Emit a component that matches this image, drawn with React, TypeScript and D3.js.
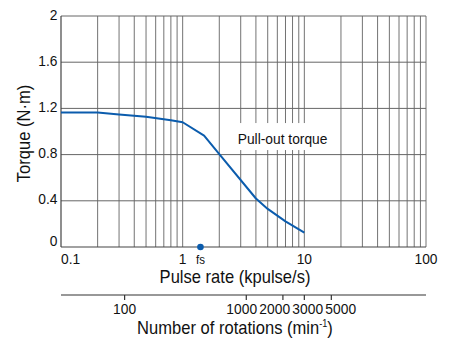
import { useEffect, useRef } from "react"
import * as d3 from "d3"

// pull-out torque curve (kpulse/s -> N·m)
const pulseRates = [0.1, 0.2, 0.3, 0.5, 0.8, 1, 1.5, 2, 4, 5, 7, 10]
const torqueValues = [1.165, 1.165, 1.148, 1.127, 1.098, 1.08, 0.965, 0.805, 0.42, 0.33, 0.222, 0.125]

const yTicks = [0, 0.4, 0.8, 1.2, 1.6, 2]
const xLabelTicks = [0.1, 1, 10, 100]
const rpmTicks = [100, 1000, 2000, 3000, 5000]
const fsRate = 1.4
const stepsPerRev = 200
const curveLabel = "Pull-out torque"

const FONT = "'Liberation Sans', Arial, sans-serif"
const SQUEEZE = 0.92 // the original uses a slightly condensed face

export default function App() {
  const svgRef = useRef<SVGSVGElement>(null)

  useEffect(() => {
    if (!svgRef.current) return
    const width = 452
    const height = 338
    const plot = { left: 61, right: 426, top: 16, bottom: 247 }
    const blue = "#0b5cad"

    d3.select(svgRef.current).selectAll("*").remove()
    const svg = d3.select(svgRef.current).attr("width", width).attr("height", height)

    // condensed text helper
    const txt = (px: number, py: number, s: string, size: number, anchor = "middle", rot = 0) =>
      svg
        .append("g")
        .attr("transform", `translate(${px},${py}) rotate(${rot}) scale(${SQUEEZE},1)`)
        .append("text")
        .attr("text-anchor", anchor)
        .attr("font-family", FONT)
        .attr("font-size", size)
        .attr("fill", "#111")
        .text(s)

    const x = d3.scaleLog().domain([0.1, 100]).range([plot.left, plot.right])
    const y = d3.scaleLinear().domain([0, 2]).range([plot.bottom, plot.top])

    // vertical grid: every 1..9 of each decade
    const gridX: number[] = []
    for (let e = -1; e < 2; e++) for (let m = 2; m <= 10; m++) gridX.push(m * Math.pow(10, e))

    svg
      .append("g")
      .selectAll("line")
      .data(gridX)
      .join("line")
      .attr("x1", (d) => x(d))
      .attr("x2", (d) => x(d))
      .attr("y1", y(0))
      .attr("y2", y(2))
      .attr("stroke", "#737373")
      .attr("stroke-width", 1)

    svg
      .append("g")
      .selectAll("line")
      .data(yTicks.filter((d) => d > 0))
      .join("line")
      .attr("x1", x(0.1))
      .attr("x2", x(100))
      .attr("y1", (d) => y(d))
      .attr("y2", (d) => y(d))
      .attr("stroke", "#666")
      .attr("stroke-width", 1)

    // axes frame
    svg.append("line").attr("x1", x(0.1)).attr("x2", x(0.1)).attr("y1", y(0)).attr("y2", y(2)).attr("stroke", "#444").attr("stroke-width", 1.2)
    svg.append("line").attr("x1", x(0.1)).attr("x2", x(100)).attr("y1", y(0)).attr("y2", y(0)).attr("stroke", "#444").attr("stroke-width", 1.2)

    // y labels
    yTicks.forEach((d) => {
      const s = d === 0 ? "0" : d3.format(".1f")(d).replace(/\.0$/, "")
      txt(plot.left - 3.5, d === 0 ? y(d) - 1 : y(d) + 3.5, s, 15, "end")
    })

    // x labels
    xLabelTicks.forEach((d) => txt(x(d), y(0) + 16.5, String(d), 15, d === 0.1 ? "start" : "middle"))

    // white box + curve label
    const lx = x(3) - 3
    const ly = y(0.9) + 1
    const box = svg.append("rect").attr("fill", "#fff")
    const label = txt(lx, ly, curveLabel, 15, "start")
    const bb = (label.node() as SVGTextElement).getBBox()
    box
      .attr("x", lx - 3)
      .attr("y", ly - 21)
      .attr("width", bb.width * SQUEEZE + 6)
      .attr("height", 27)

    // curve
    const line = d3
      .line<number>()
      .x((d) => x(d))
      .y((_, i) => y(torqueValues[i]))
    svg
      .append("path")
      .datum(pulseRates)
      .attr("fill", "none")
      .attr("stroke", blue)
      .attr("stroke-width", 2)
      .attr("stroke-linejoin", "round")
      .attr("d", line)

    // fs marker
    svg.append("circle").attr("cx", x(fsRate)).attr("cy", y(0)).attr("r", 3.3).attr("fill", blue)
    txt(x(fsRate), y(0) + 16.5, "fs", 12.5)

    txt(235, 283, "Pulse rate (kpulse/s)", 18)
    txt(30, (plot.top + plot.bottom) / 2 + 2, "Torque (N·m)", 18, "middle", -90)

    // secondary axis: rotations (min-1) = kpulse/s * 1000 * 60 / stepsPerRev
    const toRate = (rpm: number) => (rpm * stepsPerRev) / 60000
    const axisY = 295
    svg.append("line").attr("x1", plot.left).attr("x2", plot.right).attr("y1", axisY).attr("y2", axisY).attr("stroke", "#333").attr("stroke-width", 1.2)
    svg
      .append("g")
      .selectAll("line")
      .data(rpmTicks)
      .join("line")
      .attr("x1", (d) => x(toRate(d)))
      .attr("x2", (d) => x(toRate(d)))
      .attr("y1", axisY)
      .attr("y2", axisY + 5)
      .attr("stroke", "#333")
      .attr("stroke-width", 1.2)

    // labels are crowded: merge overlapping ones into groups spread evenly around their mean
    const labelW = 33
    const pos = rpmTicks.map((d) => x(toRate(d)))
    let groups = pos.map((_, i) => [i])
    const centre = (g: number[]) => d3.mean(g, (i) => pos[i]) as number
    const lo = (g: number[]) => centre(g) - ((g.length - 1) / 2) * labelW
    const hi = (g: number[]) => centre(g) + ((g.length - 1) / 2) * labelW
    let merged = true
    while (merged) {
      merged = false
      for (let k = 0; k < groups.length - 1; k++) {
        if (hi(groups[k]) + labelW > lo(groups[k + 1])) {
          groups = [...groups.slice(0, k), [...groups[k], ...groups[k + 1]], ...groups.slice(k + 2)]
          merged = true
          break
        }
      }
    }
    const labelX: number[] = []
    groups.forEach((g) => g.forEach((i, k) => (labelX[i] = lo(g) + k * labelW)))
    rpmTicks.forEach((d, i) => txt(labelX[i], 314, String(d), 15))

    const t2 = txt(235, 334, "", 18)
    t2.append("tspan").text("Number of rotations (min")
    t2.append("tspan").attr("font-size", 10).attr("dy", -7).text("-1")
    t2.append("tspan").attr("dy", 7).text(")")
  }, [])

  return <svg ref={svgRef} style={{ position: "absolute", left: 0, top: 0, background: "#fff" }} />
}
